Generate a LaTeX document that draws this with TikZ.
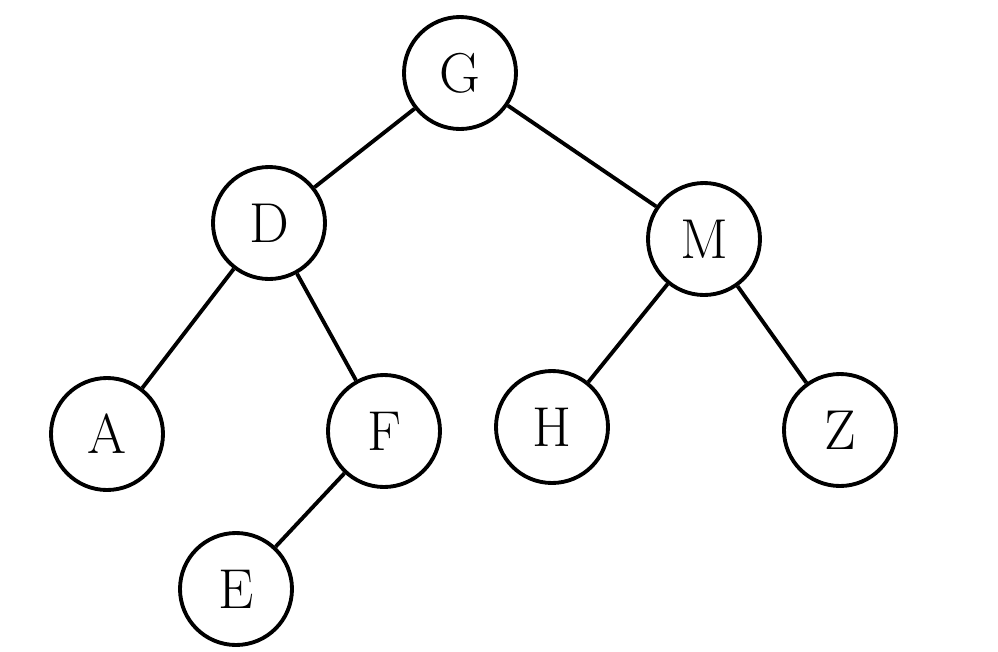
\documentclass[tikz,border=0pt]{standalone}
\usetikzlibrary{positioning}
\tikzset{
  every picture/.style={line width=2.2pt},
  vertex/.style={draw=black, circle, minimum size=2.24cm, inner sep=0pt, font=\fontsize{32}{32}\selectfont},
  edge/.style={draw=black, line width=2.2pt},
}
\begin{document}
\begin{tikzpicture}
  \useasboundingbox (0,0) rectangle (19.96,-13.04);
  % root and second level
  \node[vertex] (g) at (9.2,-1.46) {G};
  \node[vertex] (d) at (5.38,-4.46) {D};
  \node[vertex] (m) at (14.08,-4.78) {M};
  % leaves
  \node[vertex] (a) at (2.14,-8.68) {A};
  \node[vertex] (f) at (7.68,-8.62) {F};
  \node[vertex] (h) at (11.04,-8.54) {H};
  \node[vertex] (z) at (16.8,-8.6) {Z};
  \node[vertex] (e) at (4.72,-11.78) {E};
  \draw[edge] (g) -- (d); \draw[edge] (g) -- (m);
  \draw[edge] (d) -- (a); \draw[edge] (d) -- (f);
  \draw[edge] (m) -- (h); \draw[edge] (m) -- (z);
  \draw[edge] (f) -- (e);
\end{tikzpicture}
\end{document}
